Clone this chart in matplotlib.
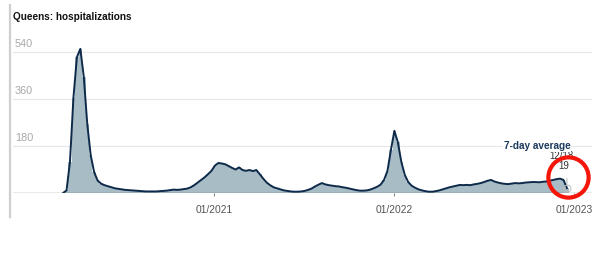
import matplotlib
matplotlib.use("Agg")
import matplotlib.pyplot as plt
import matplotlib.dates as mdates
import matplotlib.transforms as mtransforms
from matplotlib.lines import Line2D
import pandas as pd
import numpy as np

plt.rcParams['font.family'] = ['Liberation Sans', 'DejaVu Sans']

# Weekly series (Sundays) starting 2020-03-01, Queens hospitalizations, 7-day average
start_date = "2020-03-01"
avg_values = [
    0, 10, 120, 365, 520, 552, 445, 265, 145, 80,          # Mar-May 2020
    48, 36, 30, 26, 22, 18, 16, 14, 12, 11,
    10, 9, 8, 7, 6, 6, 6, 6, 7, 8,
    9, 11, 13, 12, 13, 15, 17, 22, 30, 40,
    50, 60, 72, 85, 105, 115, 113, 110, 103, 96,          # Dec 2020 - Feb 2021
    90, 98, 88, 85, 88, 84, 88, 72, 55, 40,
    30, 22, 18, 14, 10, 8, 6, 5, 5, 6,
    8, 12, 17, 25, 32, 38, 33, 30, 28, 26,
    25, 22, 20, 17, 14, 11, 9, 9, 10, 13,
    18, 24, 32, 50, 85, 165, 238, 195, 120, 70,           # Nov 2021 - Jan 2022
    42, 28, 20, 14, 10, 7, 5, 5, 7, 10,
    14, 18, 22, 25, 28, 31, 30, 31, 30, 33,
    35, 38, 42, 47, 50, 44, 40, 37, 35, 34,
    36, 38, 37, 38, 40, 41, 42, 42, 41, 43,
    44, 47, 50, 53, 55, 50, 19,                            # Nov - Dec 18 2022
]
y_ticks = [180, 360, 540]
x_ticks = ["2021-01-01", "2022-01-01", "2023-01-01"]
x_tick_labels = ["01/2021", "01/2022", "01/2023"]
title = "Queens: hospitalizations"
last_label = "12/18"
avg_label = "7-day average"

dates = pd.date_range(start_date, periods=len(avg_values), freq="7D")

W, H = 600, 270
fig = plt.figure(figsize=(6, 2.7), dpi=100)
ax_left, ax_right, ax_top, ax_bottom = 13, 592, 30, 193
ax = fig.add_axes([ax_left / W, (H - ax_bottom) / H,
                   (ax_right - ax_left) / W, (ax_bottom - ax_top) / H])

base = pd.Timestamp("2020-01-01")
px_per_day = 0.493
x0 = 33.5
xmin = base + pd.Timedelta(days=(ax_left - x0) / px_per_day)
xmax = base + pd.Timedelta(days=(ax_right - x0) / px_per_day)
ax.set_xlim(xmin, xmax)
ax.set_ylim(0, (ax_bottom - ax_top) * 180 / 47)

bar_color = "#a7bcc4"
line_color = "#0e2a4a"
ax.bar(dates, avg_values, width=7, color=bar_color, linewidth=0, zorder=2)
ax.plot(dates, avg_values, color=line_color, lw=1.4, zorder=3, solid_joinstyle="round")

# gridlines
for v in y_ticks:
    ax.axhline(v, color="#e8e8e8", lw=0.9, zorder=0)
    ax.annotate(str(v), xy=(0, v), xycoords=("axes fraction", "data"),
                xytext=(1.5, 2.5), textcoords="offset points",
                ha="left", va="bottom", fontsize=7.8, color="#a8a8a8")
ax.axhline(0, color="#555555", lw=0.9, zorder=4)

for s in ax.spines.values():
    s.set_visible(False)
ax.set_yticks([])
ax.set_xticks(pd.to_datetime(x_ticks))
ax.set_xticklabels(x_tick_labels)
ax.tick_params(axis="x", length=2.5, width=0.8, color="#888888", pad=6,
               labelsize=7.4, labelcolor="#555555")

# title and left rule
fig.text(ax_left / W, 1 - 17 / H, title, fontsize=7.2, fontweight="bold",
         color="#111111", ha="left", va="center")
fig.add_artist(Line2D([10 / W, 10 / W], [1 - 5 / H, 1 - 217 / H],
                      transform=fig.transFigure, color="#cfcfcf", lw=1.6))

# last point annotation
last_x, last_y = dates[-1], avg_values[-1]
ax.plot([last_x], [last_y], marker="o", ms=5, mfc="none", mec="#bbbbbb",
        mew=0.7, zorder=5)
ax.annotate("", xy=(last_x, last_y), xytext=(0, 9), textcoords="offset points",
            arrowprops=dict(arrowstyle="-", color="#aaaaaa", lw=0.6))
ax.annotate(str(last_y), xy=(last_x, last_y), xytext=(-2, 12),
            textcoords="offset points", ha="center", va="bottom",
            fontsize=7, color="#333333", zorder=6)
ax.annotate(last_label, xy=(last_x, last_y), xytext=(-4, 19.5),
            textcoords="offset points", ha="center", va="bottom",
            fontsize=7, color="#333333", zorder=6)
ax.annotate(avg_label, xy=(last_x, last_y), xytext=(2.5, 27),
            textcoords="offset points", ha="right", va="bottom",
            fontsize=7.2, fontweight="bold", color="#1c3a5e", zorder=6,
            bbox=dict(boxstyle="square,pad=0.1", fc="white", ec="none"))

# red highlight circle
circ_tr = mtransforms.offset_copy(ax.transData, fig=fig, x=1, y=8, units="points")
ax.plot([last_x], [last_y], marker="o", ms=29, mfc="none", mec="#f5160a",
        mew=3, transform=circ_tr, zorder=7, clip_on=False)

fig.savefig("out.png", dpi=100)
